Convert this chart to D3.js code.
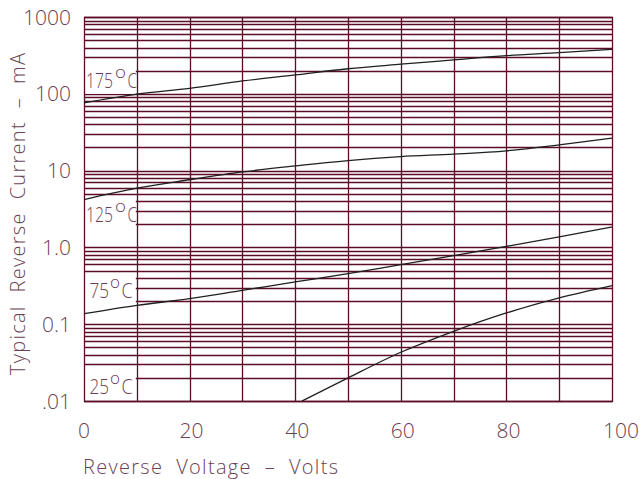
<!DOCTYPE html>
<html>
<head>
<meta charset="utf-8">
<script src="https://cdn.jsdelivr.net/npm/d3@7"></script>
<style>
  html, body { margin: 0; padding: 0; background: #fff; }
  svg { display: block; }
  text { font-family: "Open Sans", "Liberation Sans", Arial, sans-serif; font-weight: 300; fill: #6c4252; }
</style>
</head>
<body>
<svg id="chart" width="643" height="479"></svg>
<script>
// Reverse voltage (V) at which each curve was sampled
const voltage = [0, 10, 20, 30, 40, 50, 60, 70, 80, 90, 100];

// Typical reverse current (mA) per junction temperature
const current175 = [76, 99, 118, 147, 176, 212, 243, 276, 314, 343, 380];
const current125 = [4.2, 5.9, 7.6, 9.6, 11.5, 13.5, 15.2, 16.4, 18.1, 21.6, 26.5];
const current75  = [0.137, 0.176, 0.215, 0.276, 0.355, 0.455, 0.596, 0.78, 1.03, 1.37, 1.84];

// The 25 °C curve only rises above the chart floor past ~41 V
const voltage25 = [41.3, 50, 60, 70, 80, 90, 100];
const current25 = [0.01, 0.02, 0.0431, 0.0809, 0.14, 0.22, 0.318];

// Axis tick labels
const xTicks = [0, 20, 40, 60, 80, 100];
const yTicks = [1000, 100, 10, 1, 0.1, 0.01];
const yTickLabels = ["1000", "100", "10", "1.0", "0.1", ".01"];

// Temperature labels: text and the current level at their vertical centre
const tempLabels = ["175", "125", "75", "25"];
const tempLabelLevels = [152, 2.74, 0.282, 0.0159];

const series = [
  { v: voltage, i: current175 },
  { v: voltage, i: current125 },
  { v: voltage, i: current75 },
  { v: voltage25, i: current25 }
];

const svg = d3.select("#chart");
const plotLeft = 84, plotRight = 612, plotTop = 17, plotBottom = 401;
const gridColor = "#5b0d27";

const x = d3.scaleLinear().domain([0, 100]).range([plotLeft, plotRight]);
const y = d3.scaleLog().domain([0.01, 1000]).range([plotBottom, plotTop]);

// Minor + major horizontal grid: 1..9 per decade
const hLines = [];
for (let e = -2; e < 3; e++) {
  for (let m = 1; m <= 9; m++) hLines.push(m * Math.pow(10, e));
}
hLines.push(1000);

svg.append("g").selectAll("line").data(hLines).join("line")
  .attr("x1", plotLeft).attr("x2", plotRight)
  .attr("y1", d => Math.round(y(d)) + 0.5).attr("y2", d => Math.round(y(d)) + 0.5)
  .attr("stroke", gridColor).attr("stroke-width", 1.3);

// White boxes behind the temperature labels
const boxHalf = 14;
svg.append("g").selectAll("rect").data(tempLabelLevels).join("rect")
  .attr("x", x(0) + 1)
  .attr("y", d => y(d) - boxHalf)
  .attr("width", x(10) - x(0) - 2)
  .attr("height", boxHalf * 2)
  .attr("fill", "#fff");

// Vertical grid every 10 V
const vLines = d3.range(0, 101, 10);
svg.append("g").selectAll("line").data(vLines).join("line")
  .attr("x1", d => Math.round(x(d)) + 0.5).attr("x2", d => Math.round(x(d)) + 0.5)
  .attr("y1", plotTop).attr("y2", plotBottom + 1)
  .attr("stroke", gridColor).attr("stroke-width", 1.3);

// Frame top / bottom
svg.append("g").selectAll("line").data([1000, 0.01]).join("line")
  .attr("x1", plotLeft).attr("x2", plotRight + 1)
  .attr("y1", d => Math.round(y(d)) + 0.5).attr("y2", d => Math.round(y(d)) + 0.5)
  .attr("stroke", gridColor).attr("stroke-width", 1.5);

// Curves
const line = d3.line()
  .x(d => x(d[0]))
  .y(d => y(d[1]))
  .curve(d3.curveMonotoneX);

svg.append("g").selectAll("path").data(series).join("path")
  .attr("d", s => line(s.v.map((v, k) => [v, s.i[k]])))
  .attr("fill", "none")
  .attr("stroke", "#1f1f24")
  .attr("stroke-width", 1.3);

// Place a text so its advance spans [x0, x0 + w], squeezing horizontally
function fitText(parent, str, x0, yBase, w, size) {
  const t = parent.append("text").attr("font-size", size).text(str);
  const natural = t.node().getComputedTextLength();
  t.attr("transform", `translate(${x0},${yBase}) scale(${w / natural},1)`);
  return t;
}

// Temperature labels: number, raised degree ring and "C", set side by side
tempLabels.forEach((lab, k) => {
  const g = svg.append("g").attr("transform", `translate(0,${y(tempLabelLevels[k])})`);
  const wide = lab.length > 2;
  fitText(g, lab, wide ? 86 : 89.5, 8, wide ? 27 : 19.5, 21);
  fitText(g, "o", wide ? 115 : 110, -2, wide ? 11 : 10, 17);
  fitText(g, "C", wide ? 127.5 : 121.5, 8, wide ? 9.5 : 11, 21);
});

// Y axis tick labels
svg.append("g").selectAll("text").data(yTicks).join("text")
  .attr("x", 71)
  .attr("y", d => y(d) + 7.5)
  .attr("text-anchor", "end")
  .attr("font-size", 21)
  .text((d, k) => yTickLabels[k]);

// X axis tick labels
svg.append("g").selectAll("text").data(xTicks).join("text")
  .attr("x", d => x(d) + (d === 100 ? 9 : d === 0 ? 0 : 2))
  .attr("y", 438)
  .attr("text-anchor", "middle")
  .attr("font-size", 21)
  .text(d => d);

// Axis titles
svg.append("text")
  .attr("x", 83).attr("y", 474)
  .attr("font-size", 20)
  .attr("textLength", 255)
  .attr("lengthAdjust", "spacing")
  .attr("xml:space", "preserve")
  .text("Reverse  Voltage  –  Volts");

svg.append("text")
  .attr("transform", "translate(25,375) rotate(-90)")
  .attr("x", 0).attr("y", 0)
  .attr("font-size", 20)
  .attr("textLength", 322)
  .attr("lengthAdjust", "spacing")
  .attr("xml:space", "preserve")
  .text("Typical  Reverse  Current  –  mA");
</script>
</body>
</html>
